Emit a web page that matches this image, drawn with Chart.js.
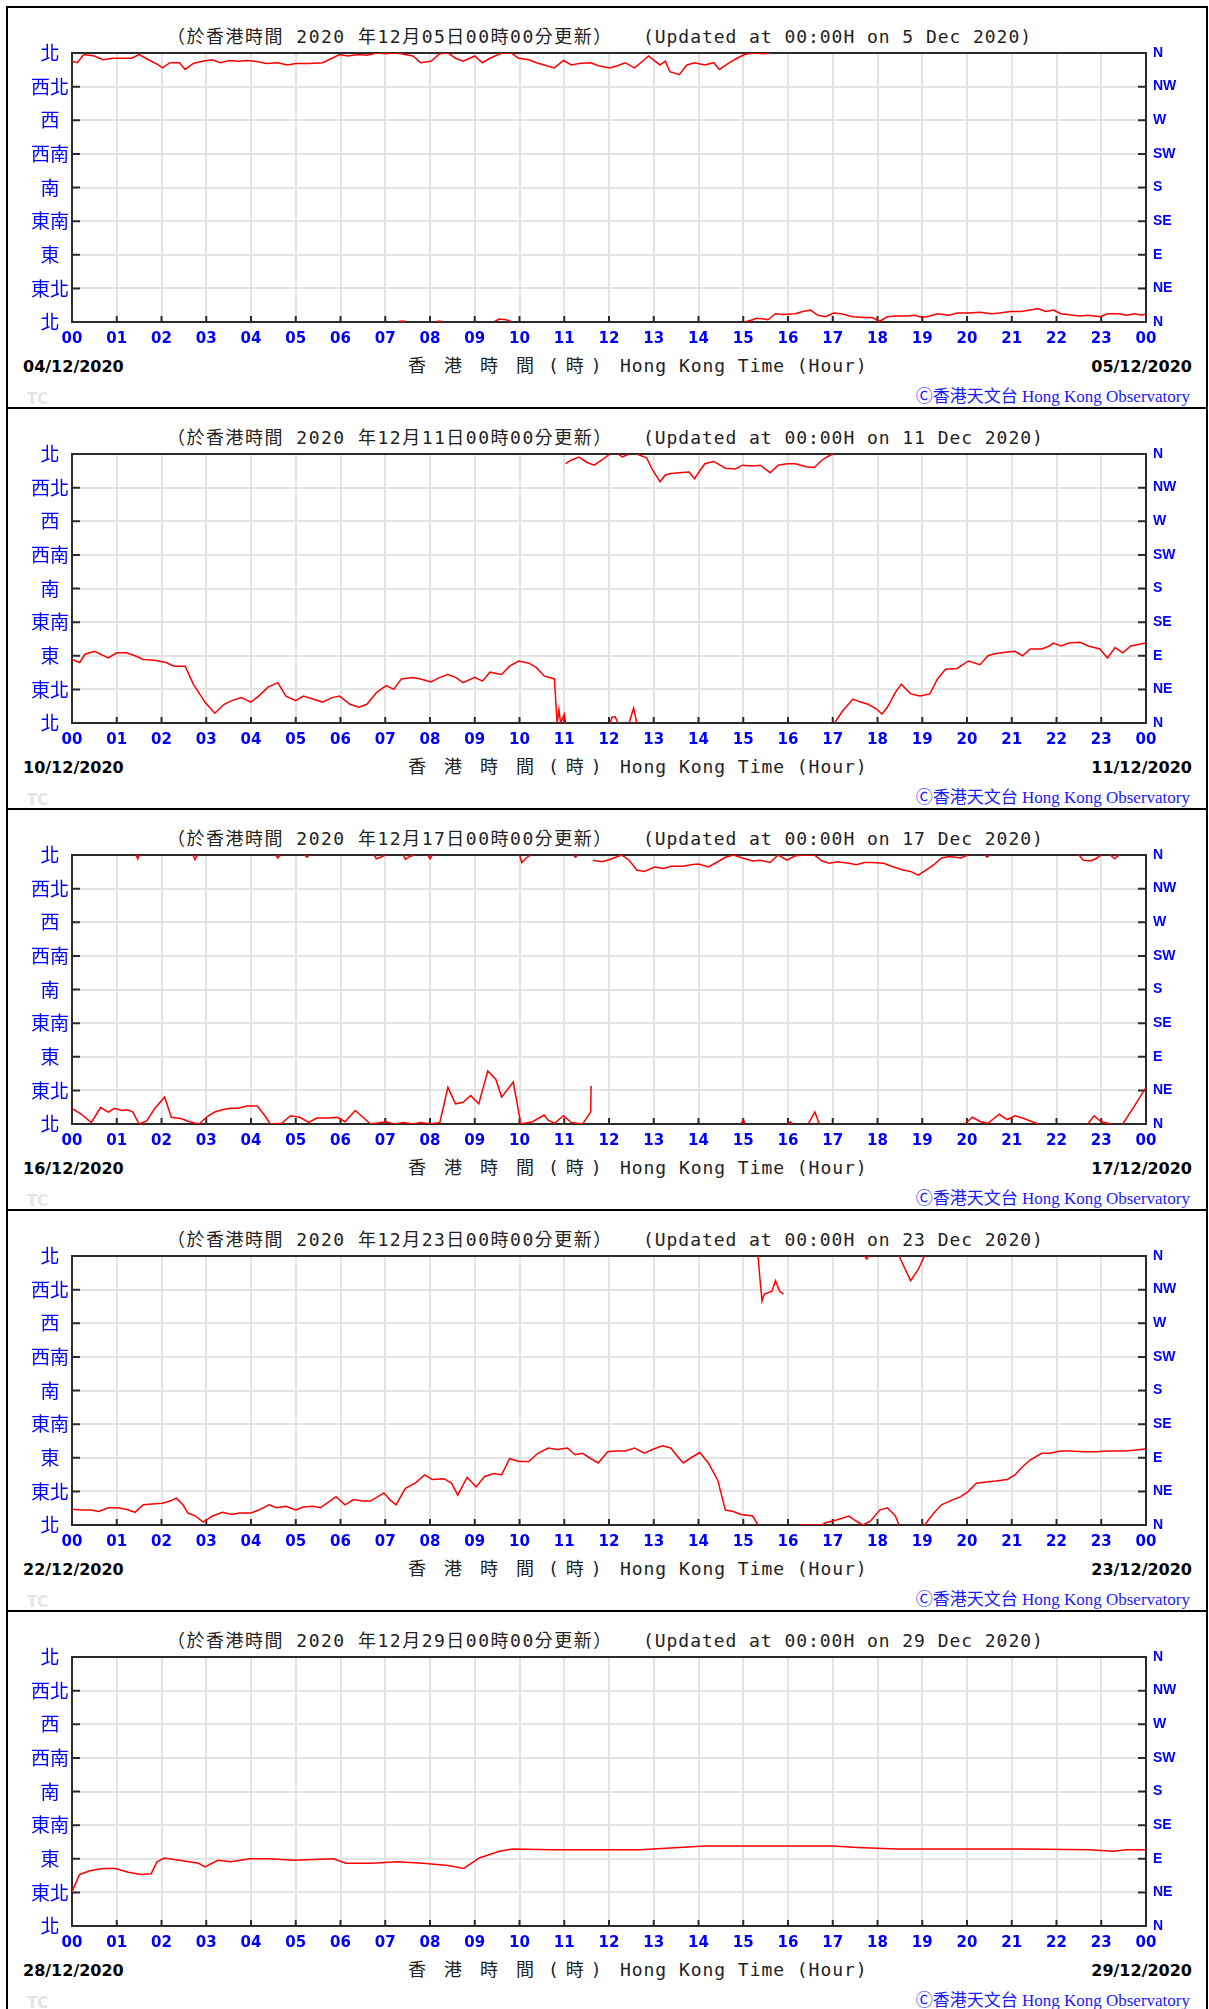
<!DOCTYPE html>
<html>
<head>
<meta charset="utf-8">
<script src="https://cdn.jsdelivr.net/npm/chart.js@4"></script>
<style>
html,body{margin:0;padding:0;background:#fff;width:1209px;height:2009px;overflow:hidden;}
.panel{position:absolute;left:6px;width:1202px;height:403px;box-sizing:border-box;border:2px solid #000;}
.cv{position:absolute;left:0;}
.t{position:absolute;white-space:nowrap;line-height:20px;height:20px;}
.mono{font-family:"DejaVu Sans Mono","Noto Sans CJK TC",monospace;font-size:18px;color:#222;}
.zh{letter-spacing:1.5px;}
.zh2{letter-spacing:3.6px;}
.zh3{letter-spacing:7px;}
.en{letter-spacing:0.95px;}
.date{font-family:"DejaVu Sans",sans-serif;font-weight:bold;font-size:16px;color:#000;}
.copy{font-family:"Liberation Serif","Noto Sans CJK TC",serif;font-size:17px;color:#1a1aff;}
.copy .c{font-family:"Noto Sans CJK TC";font-size:17px;}
.tc{font-family:"DejaVu Sans",sans-serif;font-weight:bold;font-size:15px;color:#e4e4e4;}
</style>
</head>
<body>
<div id="root"></div>
<script>
// ---------- labels ----------
const hourLabels = ['00','01','02','03','04','05','06','07','08','09','10','11','12','13','14','15','16','17','18','19','20','21','22','23','00'];
const dirLabelsZh = ['北','東北','東','東南','南','西南','西','西北','北'];
const dirLabelsEn = ['N','NE','E','SE','S','SW','W','NW','N'];
const startDates = ['04/12/2020','10/12/2020','16/12/2020','22/12/2020','28/12/2020'];
const endDates   = ['05/12/2020','11/12/2020','17/12/2020','23/12/2020','29/12/2020'];
const updateDayZh = ['05','11','17','23','29'];
const updateDayEn = ['5','11','17','23','29'];

// ---------- data: hour of day / wind direction (deg), null = break ----------
const p1Hours = [
 0,0.12,0.26,0.5,0.69,0.9,1.1,1.33,1.5,1.71,
 1.93,2.02,2.19,2.4,2.53,2.71,2.91,3.14,3.31,3.52,
 3.71,3.91,4.09,4.34,4.6,4.81,5.0,5.29,5.6,5.81,
 5.98,6.16,6.41,6.59,6.81,7.02,7.19,7.36,7.62,7.79,
 8.02,8.22,8.4,8.57,8.74,9.0,9.17,9.34,9.6,9.81,
 9.98,10.21,10.38,10.55,10.78,10.98,11.16,11.33,11.59,11.76,
 12.02,12.19,12.36,12.57,12.79,12.88,13.14,13.26,13.36,13.57,
 13.74,13.91,14.14,14.34,14.47,14.69,14.86,15.03,15.21,15.47,
 15.6, 15.6,
 7.3,7.45,7.45, 8.15,8.25,8.25, 9.45,9.55,9.7,9.8,9.8,
 15.03,15.21,15.29,15.47,15.55,15.72,15.9,16.16,16.33,16.5,
 16.67,16.84,17.02,17.19,17.45,17.71,17.88,18.05,18.22,18.4,
 18.66,18.83,19.0,19.17,19.34,19.6,19.78,20.03,20.29,20.55,
 20.72,20.98,21.21,21.41,21.59,21.76,21.93,22.1,22.36,22.53,
 22.71,22.97,23.14,23.4,23.57,23.74,23.91,24
];
const p1Dir = [
 349,347,358,356,351,353,353,353,358,351,
 344,340,347,347,338,346,349,351,347,350,
 349,350,349,346,347,344,346,346,347,353,
 358,356,358,357,360,359,360,359,356,347,
 349,359,360,353,349,356,347,353,360,360,
 353,351,347,344,340,350,344,346,347,343,
 340,343,347,340,351,356,344,349,335,331,
 344,347,344,347,338,347,353,358,360,359,
 360, null,
 1,1,null, 1,1,null, 1,4,3,1,null,
 0,3,5,4,3,11,10,11,14,16,
 9,7,12,11,7,6,6,1,7,8,
 8,9,6,8,11,9,12,12,13,11,
 12,14,14,16,18,14,16,11,9,8,
 9,7,11,11,9,11,9,11
];

const p2Hours = [
 0,0.17,0.29,0.5,0.81,1.0,1.21,1.41,1.59,1.84,
 2.1,2.28,2.53,2.71,2.97,3.19,3.4,3.57,3.78,4.0,
 4.17,4.38,4.6,4.78,5.0,5.17,5.38,5.6,5.81,5.98,
 6.21,6.41,6.59,6.81,7.02,7.19,7.36,7.62,7.79,8.02,
 8.22,8.4,8.57,8.74,9.0,9.17,9.34,9.6,9.78,9.98,
 10.21,10.38,10.55,10.78,10.84,10.88,10.92,11.0,11.03, 11.03,
 11.03,11.16,11.33,11.5,11.67,11.84,12.02, 12.02,
 12.02,12.07,12.14,12.2, 12.2,
 12.2,12.3,12.45, 12.45,
 12.45,12.55,12.62, 12.62,
 12.62,12.84,12.97,13.14,13.26,13.38,13.57,13.79,13.91,14.14,
 14.34,14.6,14.83,14.98,15.21,15.38,15.6,15.78,15.98,16.16,
 16.41,16.59,16.76,16.93,17.02, 17.02,
 17.05,17.22,17.45,17.62,17.79,17.97,18.1,18.22,18.4,18.53,
 18.74,18.95,19.17,19.34,19.52,19.78,20.03,20.29,20.47,20.64,
 20.9,21.07,21.24,21.41,21.67,21.84,21.93,22.1,22.28,22.53,
 22.71,22.97,23.14,23.31,23.48,23.66,24
];
const p2Dir = [
 85,81,92,96,87,94,94,90,85,84,
 81,76,76,52,28,13,25,30,34,28,
 36,48,54,36,30,36,32,28,34,36,
 25,21,25,41,50,45,59,61,59,55,
 61,65,61,54,61,56,68,65,76,83,
 80,74,63,59,0,18,0,12,0, null,
 347,352,356,349,345,352,360, null,
 0,8,8,0, null,
 360,356,360, null,
 0,20,0, null,
 360,355,339,323,332,334,335,336,327,347,
 350,341,340,345,344,345,335,345,347,347,
 343,342,352,358,360, null,
 1,16,32,28,25,19,12,21,41,52,
 39,36,39,59,72,73,83,78,90,93,
 95,96,90,99,99,103,107,103,107,108,
 103,99,87,101,94,103,107
];

const p3Hours = [
 0,0.21,0.43,0.64,0.81,0.95,1.12,1.24,1.36,1.5,
 1.67,1.84,2.07,2.22,2.45,2.62,2.84,3.02,3.19,3.36,
 3.53,3.71,3.91,4.14,4.31,4.43,4.69,4.88,5.09,5.29,
 5.47,5.72,5.93,6.1,6.33,6.5,6.67,7.02,7.19,7.41,
 7.62,7.79,8.02,8.22,8.4,8.57,8.74,8.91,9.09,9.29,
 9.47,9.6,9.86,10.03,10.29,10.55,10.64,10.78,10.98,11.16,
 11.41,11.59,11.6, 11.6,
 1.43,1.47,1.5, 1.5,
 2.7,2.75,2.8, 2.8,
 4.55,4.6,4.65, 4.65,
 5.2,5.25,5.3, 5.3,
 6.75,6.8,6.9,7.0, 7.0,
 7.4,7.45,7.55,7.65, 7.65,
 7.95,8.0,8.05, 8.05,
 10.0,10.05,10.15,10.25, 10.25,
 11.2,11.25,11.3, 11.3,
 11.64,11.84,12.02,12.28,12.45,12.62,12.79,13.02,13.22,13.38,
 13.66,13.83,14.0,14.22,14.43,14.6,14.78,14.98,15.21,15.38,
 15.6,15.78,15.98,16.16,16.41,16.59,16.76,16.93,17.1,17.36,
 17.53,17.71,17.88,18.14,18.31,18.57,18.74,18.91,19.09,19.26,
 19.43,19.6,19.86,20.03, 20.03,
 20.4,20.45,20.5, 20.5,
 22.5,22.6,22.75,22.88,23.0, 23.0,
 23.2,23.3,23.4, 23.4,
 14.95,15.0,15.05, 15.05,
 16.0,16.05,16.1, 16.1,
 16.45,16.6,16.7, 16.7,
 19.95,20.12,20.3,20.47,20.72,20.9,21.07,21.24,21.5,21.6, 21.6,
 22.7,22.84,23.0,23.22, 23.22,
 23.48,23.74,24
];
const p3Dir = [
 21,13,2,22,16,21,18,19,16,0,
 4,20,36,9,7,3,0,10,16,19,
 21,21,24,24,11,0,1,11,9,2,
 8,8,9,3,18,9,0,3,0,2,
 0,2,0,2,49,27,29,38,27,71,
 60,36,56,0,3,12,5,1,11,2,
 0,16,51, null,
 360,355,360, null,
 360,354,360, null,
 360,356,360, null,
 360,357,360, null,
 360,355,357,360, null,
 360,354,358,360, null,
 360,355,360, null,
 360,350,356,360, null,
 360,357,360, null,
 353,351,354,360,353,340,338,344,342,345,
 345,347,348,344,351,357,360,356,352,353,
 350,360,353,359,360,360,352,349,351,349,
 347,350,350,349,345,340,338,333,340,347,
 356,358,356,360, null,
 360,357,360, null,
 360,353,352,355,360, null,
 360,355,360, null,
 0,5,0, null,
 0,3,0, null,
 0,16,0, null,
 0,9,3,1,13,6,11,8,2,0, null,
 0,11,3,0, null,
 0,24,49
];

const p4Hours = [
 0,0.21,0.43,0.6,0.81,1.02,1.21,1.41,1.59,1.79,
 2.02,2.19,2.33,2.48,2.59,2.76,2.93,3.14,3.36,3.57,
 3.74,4.0,4.17,4.4,4.57,4.78,5.0,5.17,5.38,5.55,
 5.76,5.9,6.1,6.29,6.5,6.67,6.97,7.1,7.24,7.45,
 7.67,7.88,8.05,8.31,8.48,8.62,8.83,9.03,9.22,9.43,
 9.6,9.78,9.98,10.21,10.41,10.64,10.84,11.07,11.24,11.41,
 11.59,11.76,11.97,12.14,12.36,12.57,12.79,12.97,13.19,13.38,
 13.57,13.66,13.86,14.03,14.22,14.43,14.6,14.78,14.95,15.21,
 15.33, 15.33,
 15.33,15.38,15.42,15.47,15.64,15.72,15.81,15.9, 15.9,
 17.71,17.76,17.8, 17.8,
 18.48,18.74,18.91,19.05, 19.05,
 16.24,16.76,16.84,17.1,17.36,17.53,17.67,17.84,18.05,18.22,
 18.4,18.48, 18.48,
 19.05,19.26,19.43,19.69,19.86,20.03,20.21,20.47,20.64,20.9,
 21.07,21.24,21.41,21.67,21.84,22.1,22.28,22.62,22.88,23.14,
 23.48,23.74,24
];
const p4Dir = [
 21,20,20,18,23,23,21,17,27,28,
 29,32,36,27,16,12,4,12,17,14,
 16,16,20,27,23,25,20,24,25,23,
 32,38,27,34,32,32,43,34,27,49,
 56,67,61,62,56,40,64,51,65,69,
 67,89,85,85,96,103,101,103,94,96,
 89,83,98,99,99,103,96,101,106,103,
 89,83,91,97,83,60,20,18,14,12,
 0, null,
 360,325,300,309,313,327,313,309, null,
 360,356,360, null,
 360,327,342,360, null,
 0,0,3,7,12,5,0,5,20,23,
 12,0, null,
 0,16,27,34,38,45,56,58,59,61,
 67,78,87,96,96,99,99,98,98,99,
 99,100,102
];

const p5Hours = [
 0,0.17,0.4,0.69,0.97,1.26,1.54,1.77,1.9,2.06,
 2.4,2.83,2.97,3.26,3.55,3.98,4.4,4.98,5.84,6.12,
 6.69,7.27,7.84,8.41,8.75,8.98,9.1,9.55,9.84,10.7,
 11.56,12.7,13.56,14.13,15.56,16.99,17.56,18.42,19.85,21.28,
 22.71,23.28,23.57,24
];
const p5Dir = [
 46,69,74,77,77,72,69,70,86,91,
 88,84,79,88,86,90,90,88,90,84,
 84,86,84,81,77,86,91,100,103,102,
 102,102,105,107,107,107,105,103,103,103,
 102,100,102,102
];

const panelHours = [p1Hours,p2Hours,p3Hours,p4Hours,p5Hours];
const panelDirs  = [p1Dir,p2Dir,p3Dir,p4Dir,p5Dir];

// ---------- layout ----------
const PITCH = 401;
const root = document.getElementById('root');

function addText(cls, text, left, top, right){
  const d = document.createElement('div');
  d.className = 't ' + cls;
  d.textContent = text;
  d.style.top = top + 'px';
  if (right !== undefined) d.style.right = right + 'px'; else d.style.left = left + 'px';
  root.appendChild(d);
  return d;
}

const framePlugin = {
  id: 'frame',
  beforeDatasetsDraw(chart){
    const {ctx, chartArea: a, scales} = chart;
    ctx.save();
    ctx.strokeStyle = '#2b2b2b';
    ctx.lineWidth = 2;
    ctx.beginPath();
    scales.x.ticks.forEach(t => {
      const x = scales.x.getPixelForValue(t.value);
      ctx.moveTo(x, a.bottom); ctx.lineTo(x, a.bottom - 6);
    });
    scales.y.ticks.forEach(t => {
      const y = scales.y.getPixelForValue(t.value);
      ctx.moveTo(a.left, y); ctx.lineTo(a.left + 8, y);
      ctx.moveTo(a.right - 8, y); ctx.lineTo(a.right, y);
    });
    ctx.stroke();
    ctx.strokeRect(a.left, a.top, a.width, a.height);
    ctx.restore();
  }
};

function build(){
  for (let k = 0; k < 5; k++){
    const Y = k * PITCH;
    const p = document.createElement('div');
    p.className = 'panel';
    p.style.top = (Y + 6) + 'px';
    root.appendChild(p);

    addText('mono zh', '（於香港時間 2020 年12月' + updateDayZh[k] + '日00時00分更新）', 167, Y + 27);
    addText('mono en', '(Updated at 00:00H on ' + updateDayEn[k] + ' Dec 2020)', 643, Y + 27);
    addText('mono zh2', '香 港 時 間', 408, Y + 356);
    addText('mono zh3', '(時)', 548, Y + 356);
    addText('mono en', 'Hong Kong Time (Hour)', 620, Y + 356);
    addText('date', startDates[k], 23, Y + 357);
    addText('date', endDates[k], 0, Y + 357, 17);
    const cp = addText('copy', '', 0, Y + 385, 19);
    const c1 = document.createElement('span'); c1.className = 'c'; c1.textContent = 'Ⓒ香港天文台';
    cp.appendChild(c1);
    cp.appendChild(document.createTextNode(' Hong Kong Observatory'));
    addText('tc', 'TC', 27, Y + 389);

    const cv = document.createElement('canvas');
    cv.className = 'cv';
    cv.width = 1209; cv.height = 401;
    cv.style.top = Y + 'px';
    root.appendChild(cv);

    const hrs = panelHours[k], dirs = panelDirs[k];
    const pts = hrs.map((h, i) => ({x: h, y: dirs[i]}));

    new Chart(cv, {
      type: 'line',
      data: { datasets: [{
        data: pts, borderColor: '#ff0000', borderWidth: 1.5,
        pointRadius: 0, tension: 0, spanGaps: false, yAxisID: 'y'
      }]},
      options: {
        responsive: false, animation: false,
        layout: { padding: { top: 53, left: 0, right: 0, bottom: 0 } },
        plugins: { legend: { display: false }, tooltip: { enabled: false }, title: { display: false } },
        scales: {
          x: {
            type: 'linear', min: 0, max: 24,
            afterFit: s => { s.height = 79; },
            ticks: { stepSize: 1, autoSkip: false, maxRotation: 0, padding: 8,
              color: '#0000ff', font: { family: '"DejaVu Sans"', size: 15, weight: 'bold' },
              callback: v => hourLabels[v] },
            grid: { color: '#e4e4e4', lineWidth: 2, drawTicks: false },
            border: { display: false }
          },
          y: {
            position: 'left', min: 0, max: 360,
            afterFit: s => { s.width = 72; },
            ticks: { stepSize: 45, crossAlign: 'center', padding: 3,
              color: '#0000ff', font: { family: '"Noto Sans CJK TC"', size: 19 },
              callback: v => dirLabelsZh[v / 45] },
            grid: { color: '#e4e4e4', lineWidth: 2, drawTicks: false },
            border: { display: false }
          },
          y2: {
            position: 'right', min: 0, max: 360,
            afterFit: s => { s.width = 63; },
            ticks: { stepSize: 45, crossAlign: 'near', padding: 7,
              color: '#0000ff', font: { family: '"Liberation Sans"', size: 14, weight: 'bold' },
              callback: v => dirLabelsEn[v / 45] },
            grid: { display: false, drawTicks: false },
            border: { display: false }
          }
        }
      },
      plugins: [framePlugin]
    });
  }
}

const fontLoads = [
  '19px "Noto Sans CJK TC"', 'bold 15px "DejaVu Sans"', 'bold 14px "Liberation Sans"'
].map(f => document.fonts.load(f, '北NE00').catch(() => null));
Promise.race([Promise.all(fontLoads), new Promise(r => setTimeout(r, 1500))]).then(build);
</script>
</body>
</html>
